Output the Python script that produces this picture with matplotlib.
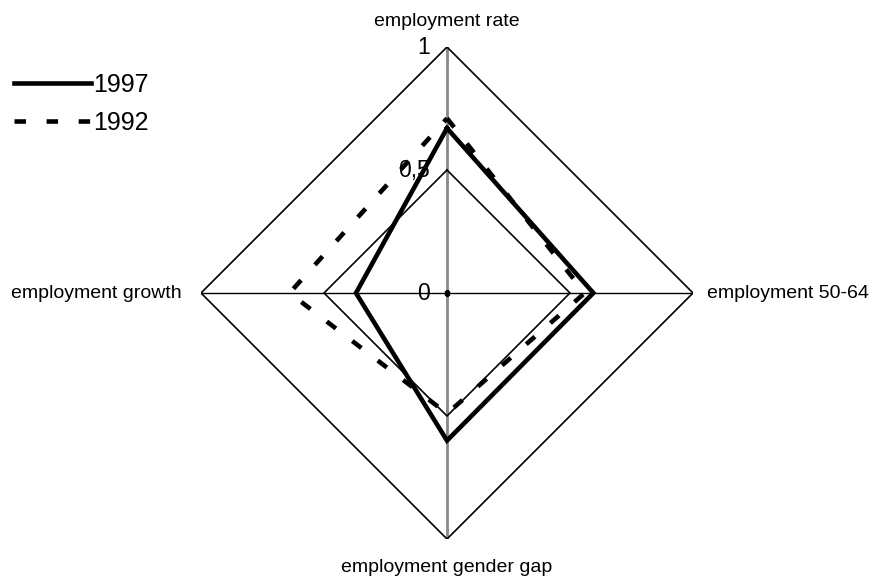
import numpy as np
import matplotlib
matplotlib.use("Agg")
import matplotlib.pyplot as plt

categories = ["employment rate", "employment 50-64", "employment gender gap", "employment growth"]
values_1997 = [0.67, 0.595, 0.60, 0.37]
values_1992 = [0.71, 0.56, 0.49, 0.64]
series_labels = ["1997", "1992"]
grid_levels = [0.5, 1.0]
tick_labels = ["0", "0,5", "1"]

plt.rcParams['font.family'] = ['Liberation Sans', 'DejaVu Sans']

fig = plt.figure(figsize=(8.75, 5.82), dpi=100)
W, H = 875, 582
cx, cy, R = 447, 293, 246
ax = fig.add_axes([(cx - R) / W, (H - cy - R) / H, 2 * R / W, 2 * R / H], projection='polar')
ax.set_theta_offset(np.pi / 2)
ax.set_theta_direction(-1)
ax.set_ylim(0, 1)
ax.grid(False)
ax.spines['polar'].set_visible(False)
ax.set_xticks([])
ax.set_yticks([])
ax.patch.set_visible(False)

n = len(categories)
angles = np.arange(n) * 2 * np.pi / n
closed = np.concatenate([angles, angles[:1]])

# polygon gridlines
for lvl in grid_levels:
    ax.plot(closed, [lvl] * (n + 1), color='black', lw=1.2, zorder=2)

# spokes
ax.plot([0, 0], [0, 1], color='#888888', lw=2, zorder=1)
ax.plot([np.pi, np.pi], [0, 1], color='#888888', lw=2, zorder=1)
ax.plot([np.pi / 2, np.pi / 2], [0, 1], color='black', lw=1, zorder=1)
ax.plot([3 * np.pi / 2, 3 * np.pi / 2], [0, 1], color='black', lw=1, zorder=1)
ax.plot([0], [0], marker='s', ms=3, color='black', zorder=3)

v97 = values_1997 + values_1997[:1]
v92 = values_1992 + values_1992[:1]
ax.plot(closed, v97, color='black', lw=3.3, label=series_labels[0], zorder=4,
        solid_joinstyle='miter')
ax.plot(closed, v92, color='black', lw=3.3, label=series_labels[1], zorder=4,
        dashes=(2.5, 4.5), dash_capstyle='butt')

# radial tick labels (placed along the top axis, left of it)
for r, t in zip([0.0] + grid_levels, tick_labels):
    ax.annotate(t, xy=(0, r), xytext=(-17, 0), textcoords='offset pixels',
                ha='right', va='center', fontsize=16.5, zorder=5)

# category labels
fs = 14
ax.annotate(categories[0], xy=(0, 1), xytext=(0, 26), textcoords='offset pixels',
            ha='center', va='center', fontsize=fs)
ax.annotate(categories[1], xy=(np.pi / 2, 1), xytext=(14, 0), textcoords='offset pixels',
            ha='left', va='center', fontsize=fs)
ax.annotate(categories[2], xy=(np.pi, 1), xytext=(0, -29), textcoords='offset pixels',
            ha='center', va='center', fontsize=fs)
ax.annotate(categories[3], xy=(3 * np.pi / 2, 1), xytext=(-19, 0), textcoords='offset pixels',
            ha='right', va='center', fontsize=fs)

fig.legend(loc='upper left', bbox_to_anchor=(0.0, 1 - 59 / H), frameon=False,
           fontsize=18, handlelength=3.1, handletextpad=0.08, labelspacing=0.55,
           borderaxespad=0, borderpad=0.55)

fig.savefig("out.png", dpi=100)
